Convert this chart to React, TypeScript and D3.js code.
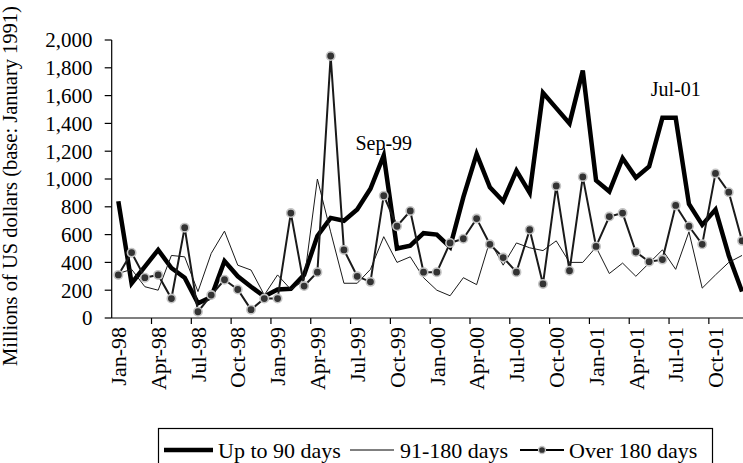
import React from "react";
import * as d3 from "d3";

const categories = [
  "Jan-98","Feb-98","Mar-98","Apr-98","May-98","Jun-98","Jul-98","Aug-98","Sep-98","Oct-98","Nov-98","Dec-98",
  "Jan-99","Feb-99","Mar-99","Apr-99","May-99","Jun-99","Jul-99","Aug-99","Sep-99","Oct-99","Nov-99","Dec-99",
  "Jan-00","Feb-00","Mar-00","Apr-00","May-00","Jun-00","Jul-00","Aug-00","Sep-00","Oct-00","Nov-00","Dec-00",
  "Jan-01","Feb-01","Mar-01","Apr-01","May-01","Jun-01","Jul-01","Aug-01","Sep-01","Oct-01","Nov-01","Dec-01",
];

const tickLabels = [
  "Jan-98","Apr-98","Jul-98","Oct-98","Jan-99","Apr-99","Jul-99","Oct-99",
  "Jan-00","Apr-00","Jul-00","Oct-00","Jan-01","Apr-01","Jul-01","Oct-01",
];

const upTo90 = [
  840, 250, 370, 490, 360, 290, 105, 150, 410, 300, 225, 155,
  205, 210, 310, 590, 720, 700, 780, 930, 1170, 500, 520, 610,
  600, 510, 870, 1180, 940, 840, 1060, 900, 1620, 1510, 1400, 1780,
  990, 910, 1150, 1010, 1090, 1440, 1440, 820, 670, 780, 450, 190,
];

const days91to180 = [
  320, 350, 225, 200, 450, 440, 190, 465, 625, 380, 345, 165,
  310, 205, 270, 1000, 620, 250, 250, 350, 585, 400, 440, 290,
  200, 160, 290, 240, 555, 380, 540, 505, 485, 555, 400, 400,
  510, 320, 395, 300, 395, 490, 350, 620, 215, 310, 400, 450,
];

const over180 = [
  310, 470, 290, 310, 140, 650, 45, 165, 275, 205, 60, 140,
  140, 755, 230, 330, 1885, 490, 300, 260, 880, 660, 770, 330,
  330, 540, 570, 715, 530, 435, 330, 635, 245, 950, 340, 1015,
  515, 730, 755, 475, 405, 420, 810, 660, 530, 1040, 905, 555,
];

const yTicks = [0, 200, 400, 600, 800, 1000, 1200, 1400, 1600, 1800, 2000];

const annotations = [
  { label: "Sep-99", cat: "Sep-99", y: 150 },
  { label: "Jul-01", cat: "Jul-01", y: 96 },
];

const legendItems = [
  { label: "Up to 90 days", kind: "thick" },
  { label: "91-180 days", kind: "thin" },
  { label: "Over 180 days", kind: "dot" },
];

const FONT = "'Liberation Serif', 'Times New Roman', serif";

export default function App() {
  const W = 743;
  const H = 463;
  const left = 111.7;
  const step = 13.27;
  const top = 40;
  const bottom = 318;

  const x = d3.scaleBand<string>().domain(categories).range([left, left + step * categories.length]).padding(0);
  const y = d3.scaleLinear().domain([0, 2000]).range([bottom, top]);
  const cx = (c: string) => (x(c) as number) + x.bandwidth() / 2;

  const mk = d3
    .line<number>()
    .x((_, i) => cx(categories[i]))
    .y((d) => y(d));

  const boundaryTicks = tickLabels.map((t) => x(t) as number).filter((v) => v > left + 1);

  const legendPos = [
    { x1: 164, x2: 213, tx: 218 },
    { x1: 350, x2: 394, tx: 400 },
    { x1: 520, x2: 564, tx: 569 },
  ];
  const legendY = 450;

  return (
    <svg
      width={W}
      height={H}
      style={{ position: "absolute", left: 0, top: 0, background: "#fff" }}
      fontFamily={FONT}
    >
      <rect x={0} y={0} width={W} height={H} fill="#fff" />
      {/* y axis title */}
      <text
        transform={`translate(16.5,186) rotate(-90)`}
        fontSize={20.5}
        textAnchor="middle"
        fill="#000"
      >
        Millions of US dollars (base: January 1991)
      </text>

      {/* y axis */}
      <line x1={left} x2={left} y1={top} y2={bottom} stroke="#000" strokeWidth={1.2} />
      {yTicks.map((t) => (
        <g key={t}>
          <line x1={left - 7} x2={left} y1={y(t)} y2={y(t)} stroke="#000" strokeWidth={1.2} />
          <text x={92.5} y={y(t)} dy="0.35em" textAnchor="end" fontSize={21} fill="#000">
            {d3.format(",")(t)}
          </text>
        </g>
      ))}

      {/* x axis */}
      <line x1={left} x2={W + 10} y1={bottom} y2={bottom} stroke="#000" strokeWidth={1.2} />
      {boundaryTicks.map((bx, i) => (
        <line key={i} x1={bx} x2={bx} y1={bottom} y2={bottom + 6} stroke="#000" strokeWidth={1.2} />
      ))}
      {tickLabels.map((t) => (
        <text
          key={t}
          transform={`translate(${cx(t)},327) rotate(-90)`}
          textAnchor="end"
          dy="0.35em"
          fontSize={22}
          fill="#000"
        >
          {t}
        </text>
      ))}

      {/* series */}
      <path d={mk(upTo90) ?? ""} fill="none" stroke="#000" strokeWidth={4.5} strokeLinejoin="miter" strokeMiterlimit={4} />
      <path d={mk(days91to180) ?? ""} fill="none" stroke="#1a1a1a" strokeWidth={1} />
      <path d={mk(over180) ?? ""} fill="none" stroke="#1a1a1a" strokeWidth={2} />
      {over180.map((v, i) => (
        <circle
          key={i}
          cx={cx(categories[i])}
          cy={y(v)}
          r={4.2}
          fill="#333"
          stroke="#c4c4c4"
          strokeWidth={1.6}
        />
      ))}

      {/* annotations */}
      {annotations.map((a) => (
        <text key={a.label} x={cx(a.cat)} y={a.y} textAnchor="middle" fontSize={20} fill="#000">
          {a.label}
        </text>
      ))}

      {/* legend */}
      <rect x={158.5} y={428.5} width={554} height={44} fill="#fff" stroke="#000" strokeWidth={1.2} />
      {legendItems.map((it, i) => {
        const p = legendPos[i];
        return (
          <g key={it.label}>
            <line
              x1={p.x1}
              x2={p.x2}
              y1={legendY}
              y2={legendY}
              stroke="#000"
              strokeWidth={it.kind === "thick" ? 4.5 : it.kind === "thin" ? 1 : 2}
            />
            {it.kind === "dot" && (
              <circle cx={(p.x1 + p.x2) / 2} cy={legendY} r={3.5} fill="#333" stroke="#c4c4c4" strokeWidth={1.3} />
            )}
            <text x={p.tx} y={legendY} dy="0.35em" fontSize={22} fill="#000">
              {it.label}
            </text>
          </g>
        );
      })}
    </svg>
  );
}
